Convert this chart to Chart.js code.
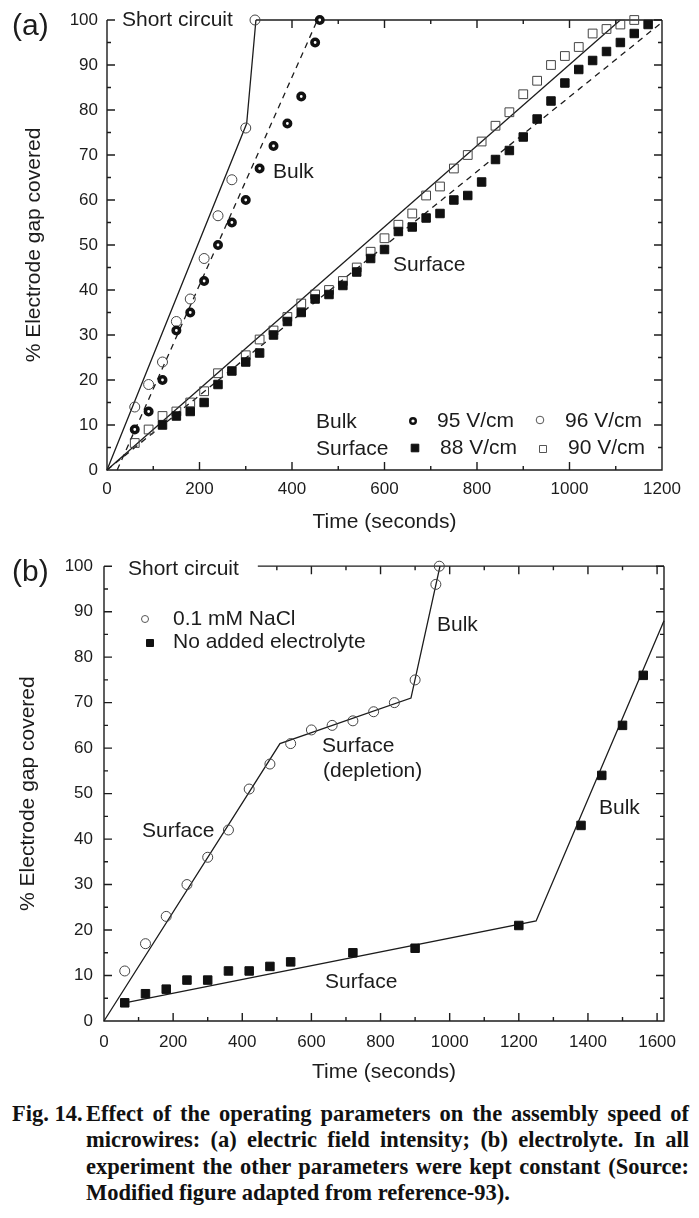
<!DOCTYPE html>
<html>
<head>
<meta charset="utf-8">
<script src="https://cdn.jsdelivr.net/npm/chart.js@4.4.1/dist/chart.umd.min.js"></script>
<style>
  html, body { margin: 0; padding: 0; background: #fff; }
  body { width: 699px; height: 1218px; position: relative; overflow: hidden; }
  #chart-a { position: absolute; left: 0; top: 0; }
  #chart-b { position: absolute; left: 0; top: 545px; }
  .caption { position: absolute; left: 0; top: 1101px; width: 699px;
    font: bold 22.5px 'Liberation Serif', 'Times New Roman', serif; color: #111; }
  .caption div { margin-left: 86px; width: 603px; height: 26.4px; line-height: 26.4px;
    text-align: justify; text-align-last: justify; }
  .caption div.last { text-align-last: left; }
  .caption .fig { position: absolute; left: 12px; top: 0; }
</style>
</head>
<body>
<canvas id="chart-a" width="699" height="545"></canvas>
<canvas id="chart-b" width="699" height="545"></canvas>
<div class="caption">
  <span class="fig">Fig. 14.</span>
  <div>Effect of the operating parameters on the assembly speed of</div>
  <div>microwires: (a) electric field intensity; (b) electrolyte. In all</div>
  <div>experiment the other parameters were kept constant (Source:</div>
  <div class="last">Modified figure adapted from reference-93).</div>
</div>
<script>
// ---------- panel (a): electric field ----------
const bulk95Time = [60, 90, 120, 150, 180, 210, 240, 270, 300, 330, 360, 390, 420, 450, 460];
const bulk95Gap = [9, 13, 20, 31, 35, 42, 50, 55, 60, 67, 72, 77, 83, 95, 100];
const bulk96Time = [60, 90, 120, 150, 180, 210, 240, 270, 300, 320];
const bulk96Gap = [14, 19, 24, 33, 38, 47, 56.5, 64.5, 76, 100];
const surf88Time = [120, 150, 180, 210, 240, 270, 300, 330, 360, 390, 420, 450, 480, 510, 540, 570, 600, 630, 660, 690, 720, 750, 780, 810, 840, 870, 900, 930, 960, 990, 1020, 1050, 1080, 1110, 1140, 1170];
const surf88Gap = [10, 12, 13, 15, 19, 22, 24, 26, 30, 33, 35, 38, 39, 41, 44, 47, 49, 53, 54, 56, 57, 60, 61, 64, 69, 71, 74, 78, 82, 86, 89, 91, 93, 95, 97, 99];
const surf90Time = [60, 90, 120, 150, 180, 210, 240, 300, 330, 360, 390, 420, 450, 480, 510, 540, 570, 600, 630, 660, 690, 720, 750, 780, 810, 840, 870, 900, 930, 960, 990, 1020, 1050, 1080, 1110, 1140];
const surf90Gap = [6, 9, 12, 13, 15, 17.5, 21.5, 25.5, 29, 31, 34, 37, 39, 40, 42, 45, 48.5, 51.5, 54.5, 57, 61, 63, 67, 70, 73, 76.5, 79.5, 83.5, 86.5, 90, 92, 94, 97, 98, 99, 100];
// fitted lines
const fit96Time = [0, 302, 322];
const fit96Gap = [0, 77, 100];
const fit95Time = [22, 455];
const fit95Gap = [0, 100];
const fit90Time = [0, 1110];
const fit90Gap = [0, 100];
const fit88Time = [0, 1200];
const fit88Gap = [0, 99.5];
const shortTimeA = [322, 1200];
const shortGapA = [100, 100];
const xTicksA = [0, 200, 400, 600, 800, 1000, 1200];
const yTicks = [0, 10, 20, 30, 40, 50, 60, 70, 80, 90, 100];

// ---------- panel (b): electrolyte ----------
const naclTime = [60, 120, 180, 240, 300, 360, 420, 480, 540, 600, 660, 720, 780, 840, 900, 960, 970];
const naclGap = [11, 17, 23, 30, 36, 42, 51, 56.5, 61, 64, 65, 66, 68, 70, 75, 96, 100];
const noElecTime = [60, 120, 180, 240, 300, 360, 420, 480, 540, 720, 900, 1200, 1380, 1440, 1500, 1560];
const noElecGap = [4, 6, 7, 9, 9, 11, 11, 12, 13, 15, 16, 21, 43, 54, 65, 76];
const naclFitTime = [0, 509, 888, 972];
const naclFitGap = [0, 61, 71, 100];
const noElecFitTime = [60, 1250, 1620];
const noElecFitGap = [4, 22, 88];
const shortTimeB = [445, 1620];
const shortGapB = [100, 100];
const xTicksB = [0, 200, 400, 600, 800, 1000, 1200, 1400, 1600];

const ink = '#1c1c1c';
const family = "'Liberation Sans', Arial, sans-serif";
const xy = (xs, ys) => xs.map((v, i) => ({ x: v, y: ys[i] }));

const ring = { pointStyle: 'circle', pointRadius: 3.2, pointBorderWidth: 3.6, pointBorderColor: '#111', pointBackgroundColor: '#fff' };
const openCircle = { pointStyle: 'circle', pointRadius: 5, pointBorderWidth: 1, pointBorderColor: '#444', pointBackgroundColor: 'rgba(255,255,255,0)' };
const filledSquare = { pointStyle: 'rect', pointRadius: 6, pointBorderWidth: 1, pointBorderColor: '#111', pointBackgroundColor: '#111' };
const openSquare = { pointStyle: 'rect', pointRadius: 6.2, pointBorderWidth: 1, pointBorderColor: '#444', pointBackgroundColor: 'rgba(255,255,255,0)' };

function pointSet(label, xs, ys, style) {
  return Object.assign({ label, data: xy(xs, ys), showLine: false, clip: false }, style);
}
function lineSet(label, xs, ys, dash) {
  return { label, data: xy(xs, ys), showLine: true, pointRadius: 0, borderColor: ink,
    borderWidth: 1.3, borderDash: dash || [], clip: false, fill: false };
}

// frame with inward ticks on all four sides
const frameTicks = {
  id: 'frameTicks',
  afterDatasetsDraw(chart, args, o) {
    const { ctx, chartArea: a, scales: { x, y } } = chart;
    const major = 8, minor = 4;
    ctx.save();
    ctx.strokeStyle = ink;
    ctx.lineWidth = 1.4;
    ctx.beginPath();
    ctx.moveTo(a.left, a.top);
    ctx.lineTo(a.left, a.bottom);
    ctx.lineTo(a.right, a.bottom);
    ctx.lineTo(a.right, a.top);
    if (o.stub) { ctx.moveTo(a.left, a.top); ctx.lineTo(a.left + o.stub, a.top); }
    const xStep = o.xTicks[1] - o.xTicks[0];
    for (let v = 0; v <= o.xTicks[o.xTicks.length - 1]; v += xStep / 2) {
      const px = x.getPixelForValue(v);
      const len = v % xStep === 0 ? major : minor;
      ctx.moveTo(px, a.bottom); ctx.lineTo(px, a.bottom - len);
      if (v >= o.topFrom) { ctx.moveTo(px, a.top); ctx.lineTo(px, a.top + len); }
    }
    for (let v = 0; v <= 100; v += 5) {
      const py = y.getPixelForValue(v);
      const len = v % 10 === 0 ? major : minor;
      ctx.moveTo(a.left, py); ctx.lineTo(a.left + len, py);
      ctx.moveTo(a.right, py); ctx.lineTo(a.right - len, py);
    }
    ctx.stroke();
    ctx.restore();
  }
};

// free text and legend symbols
const notes = {
  id: 'notes',
  afterDraw(chart, args, o) {
    const ctx = chart.ctx;
    ctx.save();
    ctx.fillStyle = ink;
    ctx.textBaseline = 'middle';
    ctx.textAlign = 'left';
    for (const n of o.items) {
      ctx.font = (n.size || 21) + 'px ' + family;
      ctx.fillText(n.text, n.x, n.y);
    }
    for (const s of o.symbols || []) {
      ctx.beginPath();
      ctx.lineWidth = s.lw;
      ctx.strokeStyle = s.stroke;
      ctx.fillStyle = s.fill;
      if (s.shape === 'circle') ctx.arc(s.x, s.y, s.r, 0, Math.PI * 2);
      else ctx.rect(s.x - s.r, s.y - s.r, s.r * 2, s.r * 2);
      if (s.fill !== 'none') ctx.fill();
      ctx.stroke();
    }
    ctx.restore();
  }
};

function scales(xMax, xTicks, yWidth, xHeight, yPad, yTitlePad, xPad, xTitlePad) {
  return {
    x: {
      type: 'linear', min: 0, max: xMax,
      afterBuildTicks: s => { s.ticks = xTicks.map(v => ({ value: v })); },
      afterFit: s => { s.height = xHeight; },
      grid: { display: false, drawTicks: false },
      border: { display: false },
      ticks: { color: ink, font: { size: 17, family }, padding: xPad, maxRotation: 0, autoSkip: false, callback: v => v },
      title: { display: true, text: 'Time (seconds)', color: ink, font: { size: 21, family }, padding: { top: 0, bottom: xTitlePad } }
    },
    y: {
      type: 'linear', min: 0, max: 100,
      afterBuildTicks: s => { s.ticks = yTicks.map(v => ({ value: v })); },
      afterFit: s => { s.width = yWidth; },
      grid: { display: false, drawTicks: false },
      border: { display: false },
      ticks: { color: ink, font: { size: 17, family }, padding: yPad, callback: v => v },
      title: { display: true, text: '% Electrode gap covered', color: ink, font: { size: 21, family }, padding: { top: yTitlePad, bottom: 0 } }
    }
  };
}

new Chart(document.getElementById('chart-a'), {
  type: 'scatter',
  data: {
    datasets: [
      pointSet('95 V/cm', bulk95Time, bulk95Gap, ring),
      pointSet('96 V/cm', bulk96Time, bulk96Gap, openCircle),
      pointSet('88 V/cm', surf88Time, surf88Gap, filledSquare),
      pointSet('90 V/cm', surf90Time, surf90Gap, openSquare),
      lineSet('fit 96', fit96Time, fit96Gap),
      lineSet('fit 95', fit95Time, fit95Gap, [6, 5]),
      lineSet('fit 90', fit90Time, fit90Gap),
      lineSet('fit 88', fit88Time, fit88Gap, [6, 5]),
      lineSet('Short circuit', shortTimeA, shortGapA)
    ]
  },
  options: {
    responsive: false,
    animation: false,
    devicePixelRatio: 1,
    layout: { padding: { top: 20, right: 37, left: 0, bottom: 0 } },
    scales: scales(1200, xTicksA, 107, 75, 9, 22, 9, 10),
    plugins: {
      legend: { display: false },
      tooltip: { enabled: false },
      frameTicks: { xTicks: xTicksA, topFrom: 322 },
      notes: {
        items: [
          { text: '(a)', x: 12, y: 27, size: 30 },
          { text: 'Short circuit', x: 122, y: 20 },
          { text: 'Bulk', x: 273, y: 172 },
          { text: 'Surface', x: 393, y: 265 },
          { text: 'Bulk', x: 316, y: 422 },
          { text: 'Surface', x: 316, y: 449 },
          { text: '95 V/cm', x: 437, y: 421 },
          { text: '96 V/cm', x: 565, y: 421 },
          { text: '88 V/cm', x: 440, y: 448 },
          { text: '90 V/cm', x: 568, y: 448 }
        ],
        symbols: [
          { shape: 'circle', x: 413, y: 421, r: 2.8, lw: 2.4, stroke: '#111', fill: '#fff' },
          { shape: 'circle', x: 540, y: 420, r: 3.8, lw: 1, stroke: '#555', fill: 'none' },
          { shape: 'rect', x: 415, y: 448, r: 3.8, lw: 1, stroke: '#111', fill: '#111' },
          { shape: 'rect', x: 543, y: 449, r: 3.5, lw: 1, stroke: '#555', fill: 'none' }
        ]
      }
    }
  },
  plugins: [frameTicks, notes]
});

new Chart(document.getElementById('chart-b'), {
  type: 'scatter',
  data: {
    datasets: [
      pointSet('0.1 mM NaCl', naclTime, naclGap, openCircle),
      pointSet('No added electrolyte', noElecTime, noElecGap, filledSquare),
      lineSet('fit NaCl', naclFitTime, naclFitGap),
      lineSet('fit none', noElecFitTime, noElecFitGap),
      lineSet('Short circuit', shortTimeB, shortGapB)
    ]
  },
  options: {
    responsive: false,
    animation: false,
    devicePixelRatio: 1,
    layout: { padding: { top: 21, right: 35, left: 0, bottom: 0 } },
    scales: scales(1620, xTicksB, 104, 69, 11, 16, 11, 5),
    plugins: {
      legend: { display: false },
      tooltip: { enabled: false },
      frameTicks: { xTicks: xTicksB, topFrom: 445, stub: 7 },
      notes: {
        items: [
          { text: '(b)', x: 12, y: 28, size: 30 },
          { text: 'Short circuit', x: 128, y: 24 },
          { text: '0.1 mM NaCl', x: 173, y: 74 },
          { text: 'No added electrolyte', x: 173, y: 97 },
          { text: 'Bulk', x: 437, y: 80 },
          { text: 'Surface', x: 322, y: 201 },
          { text: '(depletion)', x: 323, y: 226 },
          { text: 'Surface', x: 142, y: 286 },
          { text: 'Bulk', x: 599, y: 263 },
          { text: 'Surface', x: 325, y: 437 }
        ],
        symbols: [
          { shape: 'circle', x: 145, y: 74, r: 3.5, lw: 1, stroke: '#555', fill: 'none' },
          { shape: 'rect', x: 150, y: 98, r: 3.5, lw: 1, stroke: '#111', fill: '#111' }
        ]
      }
    }
  },
  plugins: [frameTicks, notes]
});
</script>
</body>
</html>
